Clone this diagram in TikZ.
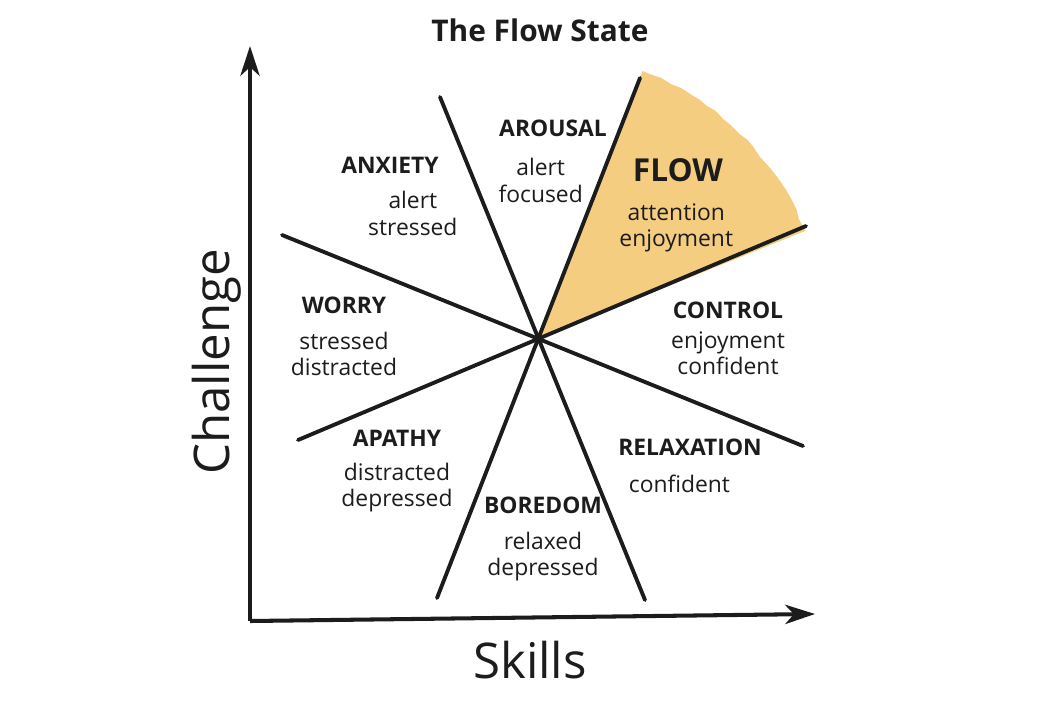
\documentclass[tikz,border=0pt]{standalone}
\usepackage{fontspec}
\setmainfont{Open Sans}
\usetikzlibrary{positioning,arrows.meta,decorations.pathmorphing}
\definecolor{FlowGold}{HTML}{F5CD80}
\definecolor{InkBlack}{HTML}{1C1C1C}

\begin{document}
\begin{tikzpicture}[x=0.02cm, y=-0.02cm, every node/.style={text=InkBlack, inner sep=1pt}]
  \tikzstyle{mood}=[font=\fontsize{13}{15}\selectfont\bfseries]
  \tikzstyle{feel}=[font=\fontsize{13}{15.2}\selectfont, align=center]
  \tikzstyle{spoke}=[line width=2.2pt, draw=InkBlack, line cap=round]
  \tikzstyle{axis}=[line width=2.3pt, draw=InkBlack, -{Stealth[length=17pt, width=11pt, inset=5pt]}]
  \useasboundingbox (0,0) rectangle (1057,700);

  % centre of the wheel and the spoke ends
  \coordinate (hub) at (540,338);
  \coordinate (flowtop) at (640,78);
  \coordinate (boredleft) at (437,598);
  \coordinate (arousaltop) at (440,97);
  \coordinate (boredright) at (645,600);
  \coordinate (worrytop) at (282,235);
  \coordinate (relaxend) at (803,446);
  \coordinate (flowright) at (806,226);
  \coordinate (apathyend) at (298,440);

  % flow sector
  \fill[FlowGold] (hub) -- ([shift={(-69:286)}]hub)
    decorate[decoration={random steps, segment length=6pt, amplitude=0.9pt}]
    {arc[start angle=-69, end angle=-22, radius=286]} -- cycle;

  \draw[spoke] (flowtop) -- (boredleft);
  \draw[spoke] (arousaltop) -- (boredright);
  \draw[spoke] (worrytop) -- (relaxend);
  \draw[spoke] (flowright) -- (apathyend);

  % axes
  \coordinate (origin) at (250,621);
  \coordinate (ytip) at (250,46);
  \coordinate (xtip) at (815,614);
  \draw[axis] (origin) -- (ytip);
  \draw[axis] (origin) -- (xtip);

  \node[font=\fontsize{17}{20}\selectfont\bfseries] (title) at (540,30) {The Flow State};
  \node[font=\fontsize{28}{30}\selectfont, rotate=90] (challenge) at (217,362) {Challenge};
  \node[font=\fontsize{28}{30}\selectfont] (skills) at (530,660) {Skills};

  % states
  \node[mood] (anxiety) at (390,165) {ANXIETY};
  \node[feel, below=8pt of anxiety, xshift=13pt] (anxietyfeel) {alert\\stressed};
  \node[mood] (arousal) at (553,128) {AROUSAL};
  \node[feel, below=10pt of arousal, xshift=-7pt] (arousalfeel) {alert\\focused};
  \node[mood, font=\fontsize{18}{20}\selectfont\bfseries] (flow) at (678,170) {FLOW};
  \node[feel, below=10pt of flow, xshift=-1pt] (flowfeel) {attention\\enjoyment};
  \node[mood] (control) at (728,310) {CONTROL};
  \node[feel, below=5pt of control] (controlfeel) {enjoyment\\confident};
  \node[mood] (relaxation) at (690,447) {RELAXATION};
  \node[feel, below=9pt of relaxation, xshift=-6pt] (relaxationfeel) {confident};
  \node[mood] (boredom) at (543,505) {BOREDOM};
  \node[feel, below=8pt of boredom] (boredomfeel) {relaxed\\depressed};
  \node[mood] (apathy) at (397,438) {APATHY};
  \node[feel, below=7pt of apathy] (apathyfeel) {distracted\\depressed};
  \node[mood] (worry) at (344,305) {WORRY};
  \node[feel, below=8pt of worry] (worryfeel) {stressed\\distracted};
\end{tikzpicture}
\end{document}
